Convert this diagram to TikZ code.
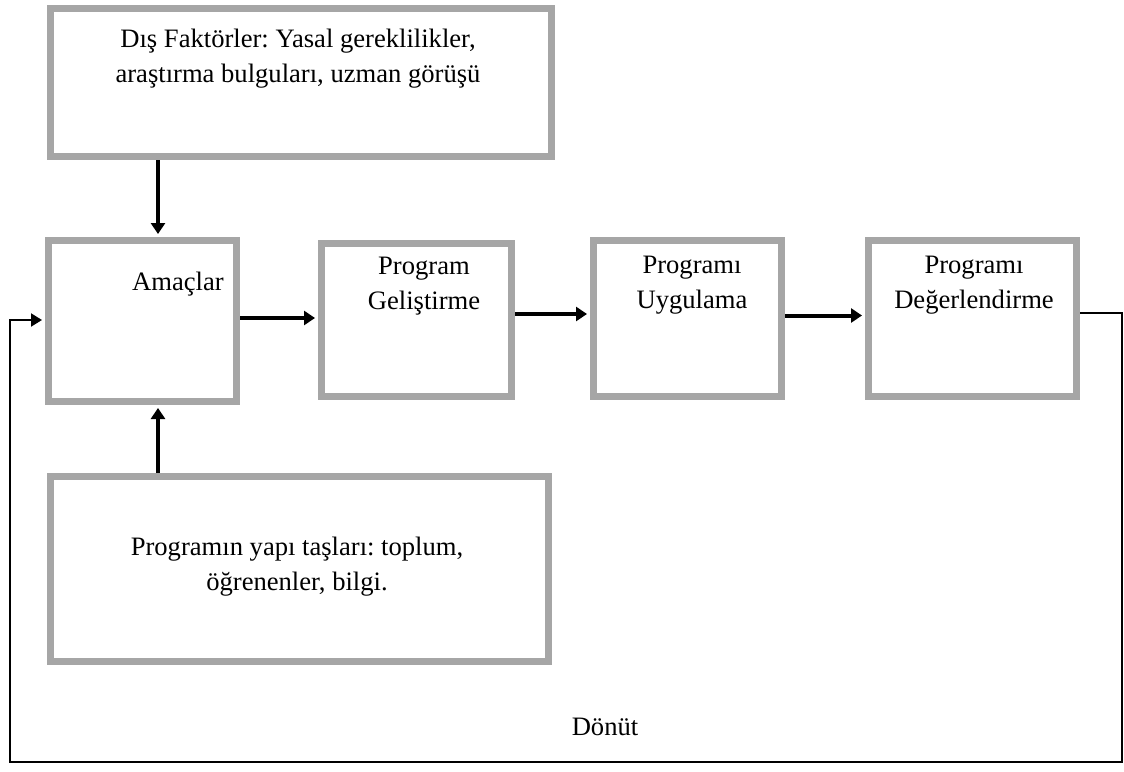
\documentclass[tikz,border=0pt]{standalone}
\usepackage{fontspec}
\setmainfont{Liberation Serif}
\usepackage{xcolor}
\usetikzlibrary{arrows.meta}
\frenchspacing

\definecolor{kgri}{HTML}{A6A6A6}

\begin{document}
\begin{tikzpicture}[x=0.5pt,y=-0.5pt,
	kutu/.style={draw=kgri,line width=3.5pt,fill=white,inner sep=0pt},
	yazi/.style={align=center,font=\fontsize{13.3}{17.5}\selectfont},
	ok/.style={line width=2pt,shorten >=1.5pt,-{Triangle[length=5.5pt,width=7pt]}},
	donut/.style={line width=1pt,shorten >=1.5pt,-{Triangle[length=5.5pt,width=6.5pt]}}]
	\useasboundingbox (0,0) rectangle (1124,771);

	% kutular
	\node[kutu,minimum width=250.5pt,minimum height=74pt] (dis) at (301,82.5) {};
	\node[kutu,minimum width=94pt,minimum height=80.5pt] (amac) at (142.5,321) {};
	\node[kutu,minimum width=95pt,minimum height=76.5pt] (gelis) at (416.5,320) {};
	\node[kutu,minimum width=94pt,minimum height=78pt] (uygu) at (687.5,318.5) {};
	\node[kutu,minimum width=104pt,minimum height=78pt] (deger) at (972.5,318.5) {};
	\node[kutu,minimum width=249pt,minimum height=92.5pt] (yapi) at (299.5,569) {};

	% yazilar
	\node[yazi] (dist) at (298,59) {Dış Faktörler: Yasal gereklilikler,\\araştırma bulguları, uzman görüşü};
	\node[yazi] (amact) at (178,284) {Amaçlar};
	\node[yazi] (gelist) at (424,286) {Program\\Geliştirme};
	\node[yazi] (uygut) at (692,285) {Programı\\Uygulama};
	\node[yazi] (degert) at (974,285) {Programı\\Değerlendirme};
	\node[yazi] (yapit) at (297,567) {Programın yapı taşları: toplum,\\öğrenenler, bilgi.};
	\node[yazi] (donutt) at (605,727) {Dönüt};

	% oklar
	\coordinate (sutun) at (158,0);
	\draw[ok] (dis.south -| sutun) -- (amac.north -| sutun);
	\draw[ok] (yapi.north -| sutun) -- (amac.south -| sutun);
	\draw[ok] ([yshift=1.5pt]amac.east) -- ([yshift=1.5pt]amac.east -| gelis.west);
	\draw[ok] ([yshift=3pt]gelis.east) -- ([yshift=3pt]gelis.east -| uygu.west);
	\draw[ok] ([yshift=1.5pt]uygu.east) -- ([yshift=1.5pt]uygu.east -| deger.west);

	% donut
	\coordinate (sagalt) at (1122,762);
	\coordinate (solalt) at (10,762);
	\draw[donut] ([yshift=3pt]deger.east) -| (sagalt) -- (solalt) |- ([yshift=0.5pt]amac.west);
\end{tikzpicture}
\end{document}
